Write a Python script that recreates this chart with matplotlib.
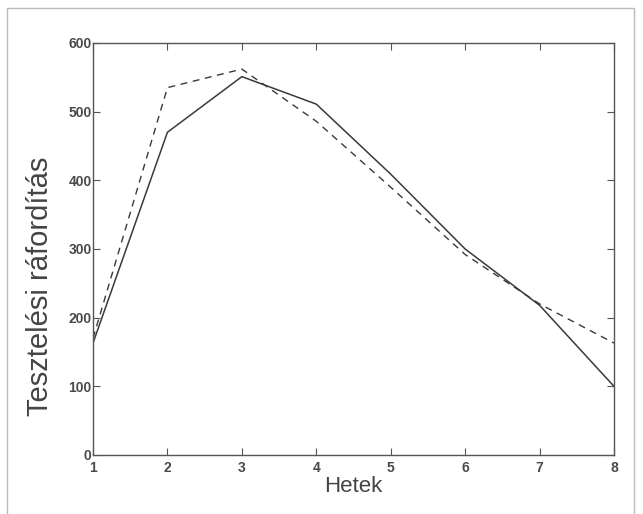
import matplotlib.pyplot as plt
from matplotlib.patches import Rectangle

weeks = [1, 2, 3, 4, 5, 6, 7, 8]
effort_actual = [163, 470, 551, 511, 409, 300, 218, 100]
effort_model = [170, 535, 562, 486, 390, 292, 220, 163]

x_ticks = [1, 2, 3, 4, 5, 6, 7, 8]
y_ticks = [0, 100, 200, 300, 400, 500, 600]

plt.rcParams['font.family'] = ['Liberation Sans', 'DejaVu Sans']

fig = plt.figure(figsize=(6.43, 5.14), dpi=100)
ax = fig.add_axes([93 / 643, 59 / 514, 521 / 643, 412 / 514])

ax.plot(weeks, effort_actual, color="#3a3a3a", lw=1.1, ls="-")
ax.plot(weeks, effort_model, color="#3a3a3a", lw=1.0, ls=(0, (5, 4)))

ax.set_xlim(1, 8)
ax.set_ylim(0, 600)
ax.set_xticks(x_ticks)
ax.set_yticks(y_ticks)
ax.tick_params(direction="in", length=5, width=0.8, color="#555555",
               top=True, right=True, labelsize=10, labelcolor="#4a4a4a")
ax.tick_params(axis="x", pad=4)
ax.tick_params(axis="y", pad=1)
for lbl in ax.get_xticklabels() + ax.get_yticklabels():
    lbl.set_fontweight("bold")
for s in ax.spines.values():
    s.set_color("#555555")
    s.set_linewidth(1.0)

ax.set_xlabel("Hetek", fontsize=16, color="#444444", labelpad=1)
ax.set_ylabel("Tesztelési ráfordítás", fontsize=21, color="#444444")
ax.yaxis.set_label_coords(-0.074, 0.41)

# scanned page border
fig.patches.append(Rectangle((7 / 643, -0.05), 627 / 643, 1.05 - 8 / 514,
                             transform=fig.transFigure, fill=False,
                             edgecolor="#bbbbbb", lw=1.0))

fig.savefig("out.png", dpi=100)
